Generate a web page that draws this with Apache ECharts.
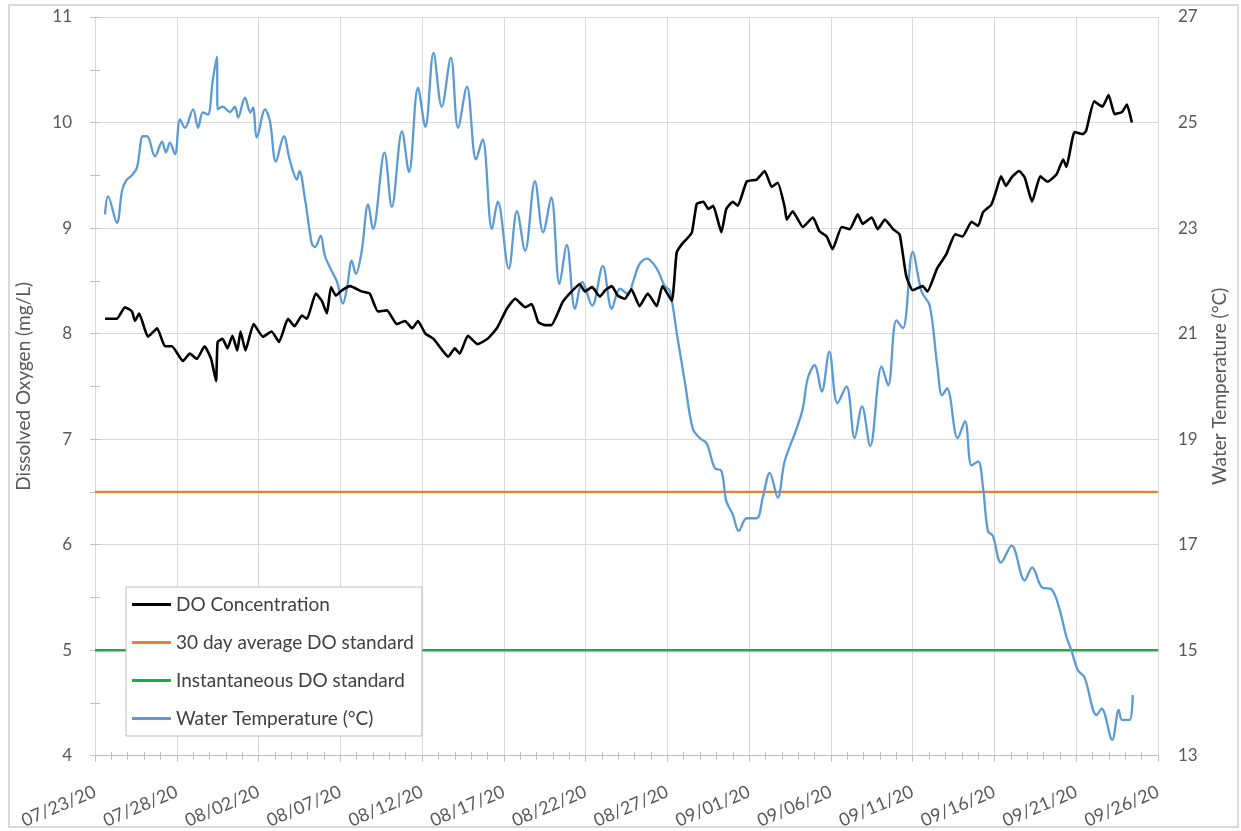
<!DOCTYPE html>
<html>
<head>
<meta charset="utf-8">
<title>Dissolved Oxygen and Water Temperature</title>
<script src="https://cdn.jsdelivr.net/npm/echarts@6/dist/echarts.min.js"></script>
<style>
  html, body { margin: 0; padding: 0; background: #ffffff; }
  #chart { width: 1241px; height: 831px; }
</style>
</head>
<body>
<div id="chart"></div>
<script>
// Day offsets are counted from 07/23/20 00:00.
const dateLabels = ['07/23/20', '07/28/20', '08/02/20', '08/07/20', '08/12/20', '08/17/20', '08/22/20',
  '08/27/20', '09/01/20', '09/06/20', '09/11/20', '09/16/20', '09/21/20', '09/26/20'];

// Dissolved oxygen, mg/L: [day offset, value]
const doConcentration = [
  [0.61, 8.14], [1.34, 8.14], [1.83, 8.25], [2.26, 8.21], [2.44, 8.12], [2.7, 8.19], [3.24, 7.97], [3.8, 8.05],
  [4.28, 7.88], [4.7, 7.88], [5.38, 7.74], [5.8, 7.81], [6.23, 7.76], [6.7, 7.88], [7.1, 7.76], [7.4, 7.55],
  [7.5, 7.92], [7.8, 7.95], [8.1, 7.86], [8.4, 7.98], [8.7, 7.84], [8.9, 8.02], [9.2, 7.84], [9.7, 8.09],
  [10.27, 7.97], [10.8, 8.02], [11.25, 7.92], [11.8, 8.14], [12.2, 8.07], [12.65, 8.17], [12.96, 8.14],
  [13.5, 8.38], [13.87, 8.31], [14.18, 8.19], [14.43, 8.44], [14.73, 8.36], [15.1, 8.41], [15.6, 8.45],
  [16.3, 8.4], [16.8, 8.38], [17.3, 8.21], [17.85, 8.22], [18.46, 8.09], [18.95, 8.12], [19.4, 8.05],
  [19.75, 8.12], [20.2, 8.0], [20.7, 7.95], [21.3, 7.83], [21.6, 7.78], [22.0, 7.86], [22.3, 7.81],
  [22.8, 7.98], [23.4, 7.9], [24.0, 7.95], [24.57, 8.05], [25.2, 8.24], [25.7, 8.33], [26.3, 8.25],
  [26.7, 8.28], [27.1, 8.11], [27.5, 8.08], [27.9, 8.08], [28.6, 8.3], [29.15, 8.4], [29.65, 8.47],
  [29.95, 8.4], [30.4, 8.44], [30.87, 8.35], [31.2, 8.41], [31.6, 8.45], [31.97, 8.36], [32.4, 8.33],
  [32.8, 8.42], [33.3, 8.26], [33.8, 8.38], [34.35, 8.26], [34.7, 8.45], [35.27, 8.31], [35.57, 8.77],
  [35.9, 8.85], [36.2, 8.9], [36.5, 8.96], [36.8, 9.23], [37.2, 9.25], [37.5, 9.18], [37.8, 9.21],
  [38.3, 8.96], [38.6, 9.18], [39.0, 9.25], [39.3, 9.21], [39.85, 9.44], [40.46, 9.46], [40.95, 9.54],
  [41.38, 9.39], [41.75, 9.43], [42.17, 9.2], [42.3, 9.08], [42.66, 9.16], [43.28, 9.01], [43.9, 9.1],
  [44.3, 8.97], [44.74, 8.92], [45.1, 8.8], [45.66, 9.01], [46.15, 8.99], [46.64, 9.13], [46.94, 9.04],
  [47.5, 9.1], [47.86, 8.99], [48.3, 9.08], [48.8, 8.99], [49.2, 8.94], [49.6, 8.55], [50.0, 8.41],
  [50.6, 8.45], [50.9, 8.4], [51.5, 8.62], [52.05, 8.75], [52.6, 8.94], [53.05, 8.92], [53.6, 9.06],
  [54.0, 9.02], [54.3, 9.15], [54.8, 9.22], [55.1, 9.35], [55.4, 9.49], [55.7, 9.4], [56.05, 9.48],
  [56.5, 9.54], [56.85, 9.48], [57.3, 9.25], [57.8, 9.49], [58.25, 9.44], [58.8, 9.51], [59.2, 9.65],
  [59.4, 9.58], [59.9, 9.91], [60.4, 9.89], [60.6, 9.92], [61.1, 10.2], [61.6, 10.15], [61.98, 10.26],
  [62.35, 10.08], [62.8, 10.1], [63.1, 10.17], [63.4, 10.0]
];

// Water temperature, °C: [day offset, value]
const waterTemperature = [
  [0.61, 23.26], [0.8, 23.6], [1.34, 23.1], [1.65, 23.7], [1.9, 23.9], [2.26, 24.0], [2.57, 24.15],
  [2.93, 24.74], [3.18, 24.74], [3.67, 24.36], [4.1, 24.64], [4.34, 24.43], [4.58, 24.62], [4.89, 24.4],
  [5.2, 25.06], [5.5, 24.9], [6.0, 25.25], [6.3, 24.9], [6.6, 25.19], [6.9, 25.15], [7.2, 25.8],
  [7.45, 26.25], [7.5, 25.25], [7.8, 25.3], [8.25, 25.2], [8.55, 25.3], [8.75, 25.1], [9.17, 25.47],
  [9.5, 25.19], [9.66, 25.28], [9.9, 24.72], [10.4, 25.25], [10.7, 25.02], [11.06, 24.26], [11.55, 24.74],
  [11.9, 24.3], [12.35, 23.92], [12.5, 24.08], [12.84, 23.55], [13.26, 22.7], [13.45, 22.64], [13.8, 22.85],
  [14.06, 22.47], [14.5, 22.17], [14.8, 21.98], [15.16, 21.57], [15.4, 21.85], [15.7, 22.38], [15.95, 22.13],
  [16.3, 22.55], [16.7, 23.45], [17.0, 22.98], [17.7, 24.43], [18.15, 23.4], [18.77, 24.83], [19.2, 24.06],
  [19.75, 25.66], [20.2, 24.92], [20.7, 26.32], [21.2, 25.3], [21.76, 26.23], [22.2, 24.9], [22.74, 25.68],
  [23.3, 24.3], [23.7, 24.68], [24.27, 22.98], [24.63, 23.5], [25.3, 22.23], [25.8, 23.32], [26.3, 22.57],
  [26.9, 23.89], [27.4, 22.92], [27.9, 23.58], [28.4, 21.94], [28.85, 22.68], [29.35, 21.47], [29.8, 21.98],
  [30.4, 21.53], [31.05, 22.28], [31.6, 21.47], [32.1, 21.85], [32.6, 21.75], [32.9, 21.98], [33.3, 22.32],
  [33.75, 22.42], [34.35, 22.23], [34.84, 21.9], [35.15, 21.81], [35.6, 20.96], [36.06, 20.1], [36.55, 19.2],
  [36.98, 19.02], [37.4, 18.92], [37.9, 18.45], [38.3, 18.4], [38.6, 17.83], [39.0, 17.57], [39.36, 17.26],
  [39.85, 17.5], [40.46, 17.5], [40.83, 17.89], [41.26, 18.36], [41.75, 17.89], [42.17, 18.58], [42.9, 19.2],
  [43.28, 19.58], [43.58, 20.15], [44.0, 20.4], [44.44, 19.9], [44.9, 20.66], [45.4, 19.68], [45.95, 20.0],
  [46.45, 19.02], [46.9, 19.62], [47.4, 18.87], [48.1, 20.38], [48.5, 20.02], [49.0, 21.25], [49.4, 21.1],
  [50.0, 22.55], [50.55, 21.79], [51.04, 21.53], [51.5, 20.4], [51.8, 19.83], [52.1, 19.96], [52.75, 19.02],
  [53.2, 19.34], [53.6, 18.5], [54.0, 18.58], [54.3, 18.08], [54.6, 17.26], [54.9, 17.17], [55.4, 16.66],
  [56.05, 16.98], [56.85, 16.32], [57.3, 16.57], [57.9, 16.19], [58.5, 16.15], [59.0, 15.75], [59.4, 15.25],
  [59.7, 15.0], [60.1, 14.62], [60.5, 14.49], [61.25, 13.77], [61.55, 13.89], [62.2, 13.3], [62.6, 13.87],
  [62.8, 13.68], [63.26, 13.68], [63.45, 14.15]
];

// DO standards, mg/L
const avgDoStandard = 6.5;
const instantDoStandard = 5;
const periodStart = 0;
const periodEnd = 65;

const labelColor = '#595959';
const gridColor = '#d9d9d9';
const fontFamily = 'Lato, "Liberation Sans", sans-serif';

const chart = echarts.init(document.getElementById('chart'), null, { renderer: 'canvas' });

const option = {
  backgroundColor: '#ffffff',
  animation: false,
  textStyle: { fontFamily: fontFamily },
  graphic: [{
    type: 'rect',
    silent: true,
    z: -1,
    shape: { x: 9, y: 5, width: 1229, height: 822 },
    style: { fill: null, stroke: '#d9d9d9', lineWidth: 2 }
  }],
  grid: { left: 95, right: 83, top: 17, bottom: 74, containLabel: false },
  legend: {
    orient: 'vertical',
    left: 126,
    top: 587,
    padding: [6, 8, 6, 6],
    itemGap: 15,
    itemWidth: 39,
    itemHeight: 3,
    icon: 'rect',
    backgroundColor: '#ffffff',
    borderColor: '#bfbfbf',
    borderWidth: 1,
    textStyle: { color: '#404040', fontSize: 19, lineHeight: 23, fontFamily: fontFamily },
    data: ['DO Concentration', '30 day average DO standard', 'Instantaneous DO standard', 'Water Temperature (°C)']
  },
  xAxis: [{
    type: 'value',
    min: periodStart,
    max: periodEnd,
    interval: 5,
    position: 'bottom',
    axisLine: { show: true, onZero: false, lineStyle: { color: '#bfbfbf', width: 1 } },
    axisTick: { show: true, length: 6, lineStyle: { color: '#bfbfbf' } },
    minorTick: { show: true, splitNumber: 5, length: 4, lineStyle: { color: '#bfbfbf' } },
    splitLine: { show: true, lineStyle: { color: gridColor, width: 1 } },
    axisLabel: {
      color: labelColor,
      fontSize: 18,
      rotate: 23,
      margin: 35,
      formatter: function (v) { return dateLabels[Math.round(v / 5)]; }
    }
  }, {
    type: 'value',
    min: periodStart,
    max: periodEnd,
    interval: 5,
    position: 'bottom',
    axisLine: { show: false },
    axisTick: { show: false, inside: true },
    minorTick: { show: true, splitNumber: 5, length: 4, lineStyle: { color: '#bfbfbf' } },
    splitLine: { show: false },
    axisLabel: { show: false }
  }],
  yAxis: [{
    type: 'value',
    min: 4,
    max: 11,
    interval: 1,
    position: 'left',
    name: 'Dissolved Oxygen (mg/L)',
    nameLocation: 'middle',
    nameRotate: 90,
    nameGap: 62,
    nameTextStyle: { color: labelColor, fontSize: 19, fontFamily: fontFamily },
    axisLine: { show: true, lineStyle: { color: gridColor } },
    axisTick: { show: true, length: 5, lineStyle: { color: '#bfbfbf' } },
    minorTick: { show: true, splitNumber: 2, length: 5, lineStyle: { color: '#bfbfbf' } },
    splitLine: { show: true, lineStyle: { color: gridColor, width: 1 } },
    axisLabel: { color: labelColor, fontSize: 17, margin: 23 }
  }, {
    type: 'value',
    min: 13,
    max: 27,
    interval: 2,
    position: 'right',
    name: 'Water Temperature (°C)',
    nameLocation: 'middle',
    nameRotate: 90,
    nameGap: 52,
    nameTextStyle: { color: labelColor, fontSize: 19, fontFamily: fontFamily },
    axisLine: { show: true, lineStyle: { color: gridColor } },
    axisTick: { show: true, length: 5, lineStyle: { color: '#bfbfbf' } },
    minorTick: { show: true, splitNumber: 2, length: 5, lineStyle: { color: '#bfbfbf' } },
    splitLine: { show: false },
    axisLabel: { color: labelColor, fontSize: 17, margin: 20 }
  }],
  series: [{
    name: 'DO Concentration',
    type: 'line',
    yAxisIndex: 0,
    data: doConcentration,
    showSymbol: false,
    smooth: 0.15,
    color: '#000000',
    lineStyle: { color: '#000000', width: 2.6 },
    z: 4
  }, {
    name: '30 day average DO standard',
    type: 'line',
    yAxisIndex: 0,
    data: [[periodStart, avgDoStandard], [periodEnd, avgDoStandard]],
    showSymbol: false,
    color: '#ed7d31',
    lineStyle: { color: '#ed7d31', width: 2.2 },
    z: 2
  }, {
    name: 'Instantaneous DO standard',
    type: 'line',
    yAxisIndex: 0,
    data: [[periodStart, instantDoStandard], [periodEnd, instantDoStandard]],
    showSymbol: false,
    color: '#1fa84a',
    lineStyle: { color: '#1fa84a', width: 2.6 },
    z: 2
  }, {
    name: 'Water Temperature (°C)',
    type: 'line',
    yAxisIndex: 1,
    data: waterTemperature,
    showSymbol: false,
    smooth: 0.35,
    color: '#5b9bd5',
    lineStyle: { color: '#5b9bd5', width: 2.3 },
    z: 3
  }]
};

chart.setOption(option);
</script>
</body>
</html>
